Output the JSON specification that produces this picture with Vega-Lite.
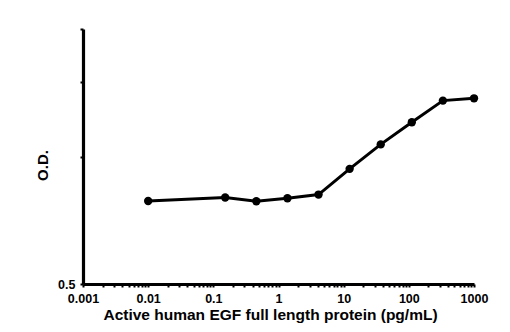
{
  "$schema": "https://vega.github.io/schema/vega-lite/v6.json",
  "width": 391,
  "height": 255,
  "autosize": {"type": "none"},
  "padding": {"left": 83, "top": 29, "right": 36, "bottom": 48},
  "background": "white",
  "config": {
    "view": {"stroke": null},
    "font": "Liberation Sans",
    "axis": {
      "domainColor": "black",
      "domainWidth": 3.2,
      "tickColor": "black",
      "tickWidth": 2,
      "grid": false,
      "labelFont": "Liberation Sans",
      "labelFontWeight": "bold",
      "labelColor": "black",
      "titleFont": "Liberation Sans",
      "titleFontWeight": "bold",
      "titleColor": "black"
    }
  },
  "data": {
    "values": [
      {"conc": 0.01, "od": 0.785},
      {"conc": 0.152, "od": 0.800},
      {"conc": 0.457, "od": 0.784},
      {"conc": 1.372, "od": 0.797},
      {"conc": 4.115, "od": 0.813},
      {"conc": 12.35, "od": 0.935},
      {"conc": 37.04, "od": 1.068},
      {"conc": 111.1, "od": 1.205},
      {"conc": 333.3, "od": 1.355},
      {"conc": 1000, "od": 1.372}
    ]
  },
  "encoding": {
    "x": {
      "field": "conc",
      "type": "quantitative",
      "scale": {"type": "log", "domain": [0.001, 1000], "nice": false},
      "axis": {
        "title": "Active human EGF full length protein (pg/mL)",
        "titleFontSize": 15.5,
        "titlePadding": 3,
        "titleX": 187,
        "labelFontSize": 12.5,
        "labelPadding": 5,
        "tickSize": 3,
        "values": [0.001,0.002,0.003,0.004,0.005,0.006,0.007,0.008,0.009,0.01,0.02,0.03,0.04,0.05,0.06,0.07,0.08,0.09,0.1,0.2,0.3,0.4,0.5,0.6,0.7,0.8,0.9,1,2,3,4,5,6,7,8,9,10,20,30,40,50,60,70,80,90,100,200,300,400,500,600,700,800,900,1000],
        "labelExpr": "indexof([0.001,0.01,0.1,1,10,100,1000], datum.value) >= 0 ? datum.label : ''",
        "format": "~g",
        "labelOverlap": false,
        "labelFlush": false
      }
    },
    "y": {
      "field": "od",
      "type": "quantitative",
      "scale": {"type": "log", "domain": [0.5, 2], "nice": false},
      "axis": {
        "title": "O.D.",
        "titleFontSize": 15,
        "titlePadding": 7,
        "titleY": 136,
        "labelFontSize": 12.5,
        "labelPadding": 5,
        "tickSize": 3,
        "values": [0.5, 1, 1.5, 2],
        "labelExpr": "datum.value == 0.5 ? '0.5' : ''",
        "labelOverlap": false,
        "labelFlush": false
      }
    }
  },
  "layer": [
    {"mark": {"type": "line", "color": "black", "strokeWidth": 3}},
    {"mark": {"type": "point", "filled": true, "color": "black", "size": 70, "opacity": 1}}
  ]
}
